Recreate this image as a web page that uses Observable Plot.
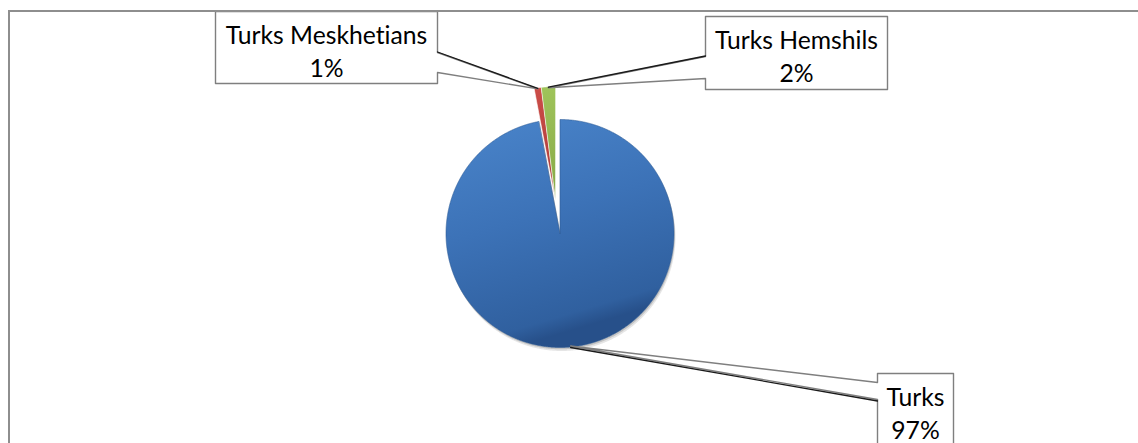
<!DOCTYPE html>
<html>
<head>
<meta charset="utf-8">
<script src="https://cdn.jsdelivr.net/npm/d3@7"></script>
<script src="https://cdn.jsdelivr.net/npm/@observablehq/plot@0.6"></script>
<style>
  html, body { margin: 0; padding: 0; background: #fff; overflow: hidden; }
  #wrap { position: relative; width: 1138px; height: 443px; overflow: hidden; }
  #chart { position: absolute; left: 0; top: 0; }
  #chart text { font-variant-ligatures: none; font-feature-settings: "liga" 0; }
  #frame { position: absolute; left: 8px; top: 10px; width: 2000px; height: 1000px;
           border-left: 2px solid #8e8e8e; border-top: 2px solid #8e8e8e; pointer-events: none; }
</style>
</head>
<body>
<svg width="0" height="0" style="position:absolute">
  <defs>
    <linearGradient id="gTurks" x1="0" y1="0" x2="0.3" y2="1">
      <stop offset="0" stop-color="#4a85cb"/>
      <stop offset="0.5" stop-color="#3c72b7"/>
      <stop offset="0.93" stop-color="#30609f"/>
      <stop offset="1" stop-color="#27508a"/>
    </linearGradient>
    <linearGradient id="gMesk" x1="0" y1="0" x2="0" y2="1">
      <stop offset="0" stop-color="#cc4d48"/>
      <stop offset="1" stop-color="#a93a36"/>
    </linearGradient>
    <linearGradient id="gHem" x1="0" y1="0" x2="0" y2="1">
      <stop offset="0" stop-color="#9fc45a"/>
      <stop offset="1" stop-color="#86a846"/>
    </linearGradient>
  </defs>
</svg>
<div id="wrap"><div id="chart"></div><div id="frame"></div></div>
<script>
// ---- data ----
const categories = ["Turks", "Turks Meskhetians", "Turks Hemshils"];
const shares = [97, 1, 2];
const percentLabels = ["97%", "1%", "2%"];

// ---- layout / style (not data) ----
const W = 1138, H = 443;
const pieCenter = [555, 208];
const pieRadius = 114;
const sliceOffsets = [[4.5, 25], [0, -8], [0, -8]];
const sliceFills = ["url(#gTurks)", "url(#gMesk)", "url(#gHem)"];
const sliceStrokes = ["#2f5d96", "rgba(255,255,255,0.7)", "rgba(255,255,255,0.7)"];
// callout boxes: [x0, y0, x1, y1], pointer side, pointer attach y-range, dark edge (0 = first, 1 = second)
const callouts = [
  {box: [877, 373, 953, 446], side: "left", ptr: [382, 399], dark: 1},
  {box: [215, 11, 437, 83], side: "right", ptr: [52, 72], dark: 0},
  {box: [705, 16, 887, 89], side: "left", ptr: [56, 78], dark: 0}
];
const fontFamily = "Lato";
const ctx = document.createElement("canvas").getContext("2d");
ctx.font = `100px ${fontFamily}`;
const fontSize = 100 * 202 / ctx.measureText(categories[1]).width;

// ---- geometry from data ----
const arcs = d3.pie().sort(null).value(d => d)(shares);
function sliceCenter(i) {
  return [pieCenter[0] + sliceOffsets[i][0], pieCenter[1] + sliceOffsets[i][1]];
}
function slicePoly(i, dx = 0, dy = 0) {
  const p = arcs[i];
  const [cx0, cy0] = sliceCenter(i);
  const cx = cx0 + dx, cy = cy0 + dy;
  const pts = [{x: cx, y: cy, k: i}];
  const n = Math.max(4, Math.ceil((p.endAngle - p.startAngle) / (Math.PI / 720)));
  for (let j = 0; j <= n; j++) {
    const a = p.startAngle + (p.endAngle - p.startAngle) * j / n;
    pts.push({x: cx + pieRadius * Math.sin(a), y: cy - pieRadius * Math.cos(a), k: i});
  }
  return pts;
}
function tipOf(i) {
  const p = arcs[i];
  const a = (p.startAngle + p.endAngle) / 2;
  const [cx, cy] = sliceCenter(i);
  return {x: cx + (pieRadius - 1) * Math.sin(a), y: cy - (pieRadius - 1) * Math.cos(a)};
}
function calloutPoly(i) {
  const c = callouts[i];
  const [x0, y0, x1, y1] = c.box;
  const t = tipOf(i);
  let pts;
  if (c.side === "right") {
    pts = [[x0, y0], [x1, y0], [x1, c.ptr[0]], [t.x, t.y], [x1, c.ptr[1]], [x1, y1], [x0, y1]];
  } else {
    pts = [[x0, y0], [x1, y0], [x1, y1], [x0, y1], [x0, c.ptr[1]], [t.x, t.y], [x0, c.ptr[0]]];
  }
  return pts.map(([x, y]) => ({x, y, k: i}));
}
function darkEdge(i) {
  const c = callouts[i];
  const t = tipOf(i);
  const bx = c.side === "right" ? c.box[2] : c.box[0];
  const by = c.ptr[c.dark];
  const oy = c.dark === 1 ? 1.5 : -0.5;
  return [{x: t.x, y: t.y + oy, k: i}, {x: bx, y: by + oy, k: i}];
}
const labelRows = categories.map((name, i) => ({
  text: `${name}\n${percentLabels[i]}`,
  x: (callouts[i].box[0] + callouts[i].box[2]) / 2,
  y: callouts[i].box[1] + 38
}));

const marks = [];
// soft shadow for main slice
marks.push(Plot.line(slicePoly(0, 1.5, 3.5), {x: "x", y: "y", curve: "linear-closed", fill: "#000", fillOpacity: 0.10, stroke: "none"}));
marks.push(Plot.line(slicePoly(0, 0.8, 1.8), {x: "x", y: "y", curve: "linear-closed", fill: "#000", fillOpacity: 0.15, stroke: "none"}));
categories.forEach((_, i) => {
  marks.push(Plot.line(slicePoly(i), {x: "x", y: "y", curve: "linear-closed", fill: sliceFills[i], stroke: sliceStrokes[i], strokeWidth: i === 0 ? 0.6 : 0.8}));
});
categories.forEach((_, i) => {
  marks.push(Plot.line(calloutPoly(i), {x: "x", y: "y", curve: "linear-closed", fill: "#fff", stroke: "#7f7f7f", strokeWidth: 1.4}));
  marks.push(Plot.line(darkEdge(i), {x: "x", y: "y", stroke: "#1a1a1a", strokeWidth: 1.3}));
});
marks.push(Plot.text(labelRows, {
  x: "x", y: "y", text: "text",
  fontFamily, fontSize, lineHeight: 33 / fontSize,
  textAnchor: "middle", lineAnchor: "middle", fill: "#000"
}));

const chart = Plot.plot({
  width: W, height: H, margin: 0,
  x: {domain: [0, W], range: [0, W], axis: null},
  y: {domain: [0, H], range: [0, H], axis: null},
  style: {background: "transparent", overflow: "visible"},
  marks
});
document.getElementById("chart").append(chart);
</script>
</body>
</html>
